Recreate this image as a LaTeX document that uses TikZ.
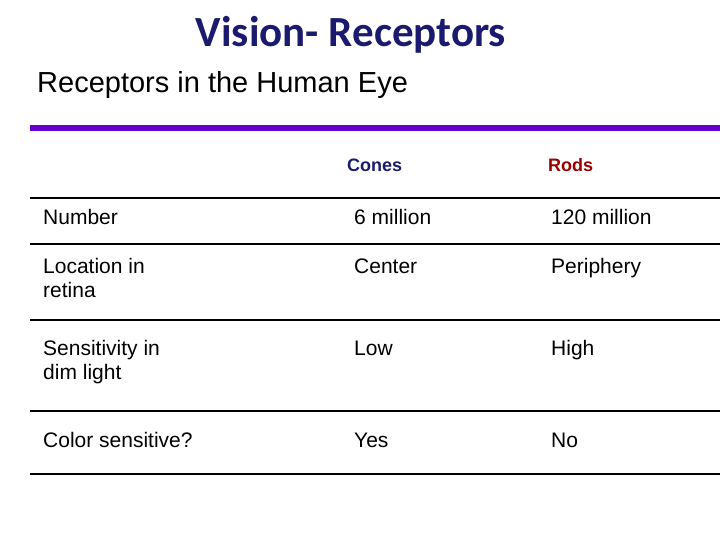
\documentclass[tikz,border=0pt]{standalone}
\usepackage{fontspec}
\setmainfont{Liberation Sans}
\newfontfamily\titlefont{Carlito}
\definecolor{navy}{HTML}{1A1A6E}
\definecolor{purp}{HTML}{6600CC}
\definecolor{dred}{HTML}{990000}
\begin{document}
\begin{tikzpicture}[x=1pt,y=-1pt,
  cell/.style={anchor=base west,font=\fontsize{21}{24}\selectfont,align=left,inner sep=0pt},
  rule/.style={line width=2.2pt},
  hdr/.style={anchor=base west,font=\fontsize{18}{21}\selectfont\bfseries,inner sep=0pt}]
\useasboundingbox (0,0) rectangle (720,540);
\node[font=\titlefont\fontsize{43}{50}\selectfont\bfseries,text=navy,anchor=base] (title) at (351,47) {Vision- Receptors};
\node[anchor=base west,font=\fontsize{29}{34}\selectfont,inner sep=0pt] (sub) at (37,93) {Receptors in the Human Eye};
\draw[line width=6pt,purp] (30,128) -- (720,128);
\node[hdr,text=navy] (hc) at (347,172) {Cones};
\node[hdr,text=dred] (hr) at (548,172) {Rods};
\foreach \y in {198,244,320,411,474} \draw[rule] (30,\y) -- (720,\y);
\node[cell] (a1) at (43,225) {Number};
\node[cell] (a2) at (354,225) {6 million};
\node[cell] (a3) at (551,225) {120 million};
\node[cell] (b1) at (43,297) {Location in\\retina};
\node[cell] (b2) at (354,273) {Center};
\node[cell] (b3) at (551,273) {Periphery};
\node[cell] (c1) at (43,379) {Sensitivity in\\dim light};
\node[cell] (c2) at (354,355) {Low};
\node[cell] (c3) at (551,355) {High};
\node[cell] (d1) at (43,447) {Color sensitive?};
\node[cell] (d2) at (354,447) {Yes};
\node[cell] (d3) at (551,447) {No};
\end{tikzpicture}
\end{document}
